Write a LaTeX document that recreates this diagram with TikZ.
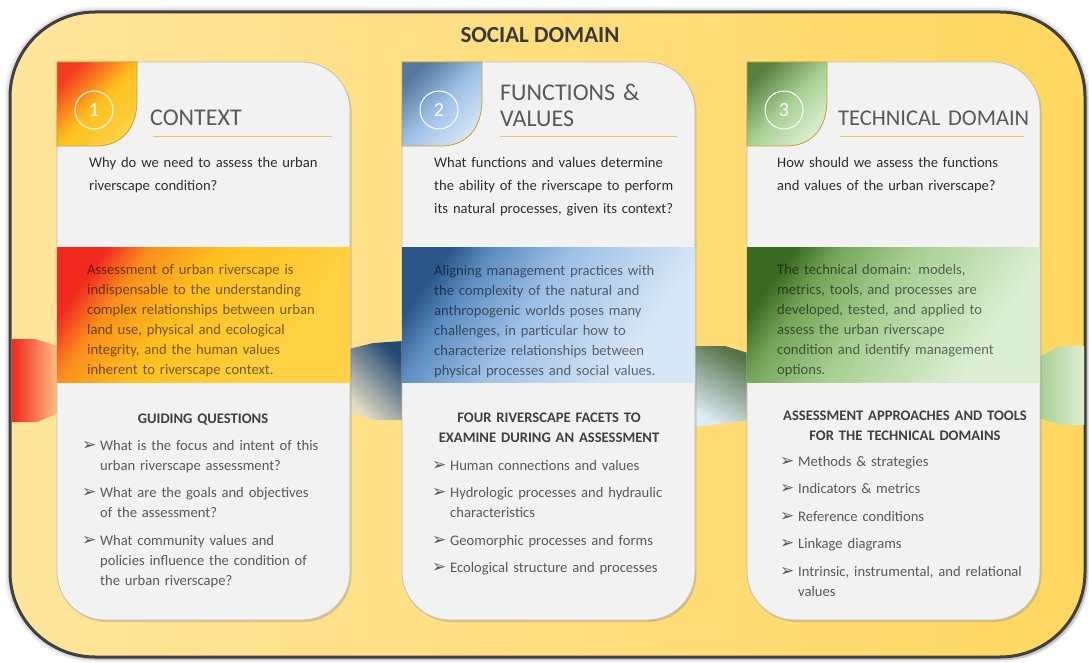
\documentclass[tikz,border=0pt]{standalone}
\usepackage{fontspec}
\setmainfont{Carlito}
\newfontfamily\arrowfont{DejaVu Sans}
\usetikzlibrary{shadows}

% colours
\definecolor{framegray}{HTML}{404040}
\definecolor{frmL}{HTML}{FFE59C}
\definecolor{frmM}{HTML}{FFF3D2}
\definecolor{frmR}{HTML}{FFD760}
\definecolor{cardfill}{HTML}{F2F2F2}
\definecolor{cardedge}{HTML}{C4BFAE}
\definecolor{leafedge}{HTML}{C9A227}
\definecolor{rulegold}{HTML}{EAC55B}
\definecolor{titlegray}{HTML}{3A3A3A}
\definecolor{headgray}{HTML}{595959}
\definecolor{qgray}{HTML}{2E2E2E}
\definecolor{lhgray}{HTML}{404040}
\definecolor{lgray}{HTML}{595959}
% -- context
\definecolor{ctxA}{HTML}{F0281E}
\definecolor{ctxB}{HTML}{F98E1D}
\definecolor{ctxC}{HTML}{FFC01E}
\definecolor{ctxD}{HTML}{FFD245}
% -- functions
\definecolor{fnA}{HTML}{2A5689}
\definecolor{fnB}{HTML}{5E8EC2}
\definecolor{fnC}{HTML}{9DC0E6}
\definecolor{fnD}{HTML}{D7E6F6}
% -- technical
\definecolor{tcA}{HTML}{3A6A22}
\definecolor{tcB}{HTML}{75A65A}
\definecolor{tcC}{HTML}{A7CF92}
\definecolor{tcD}{HTML}{DCEED3}

\pgfdeclareverticalshading{ctxshade}{100bp}{color(0bp)=(ctxD); color(30bp)=(ctxD); color(55bp)=(ctxC); color(68bp)=(ctxB); color(76bp)=(ctxA); color(100bp)=(ctxA)}
\pgfdeclareverticalshading{fnshade}{100bp}{color(0bp)=(fnD); color(30bp)=(fnD); color(54bp)=(fnC); color(68bp)=(fnB); color(76bp)=(fnA); color(100bp)=(fnA)}
\pgfdeclareverticalshading{tcshade}{100bp}{color(0bp)=(tcD); color(30bp)=(tcD); color(54bp)=(tcC); color(68bp)=(tcB); color(76bp)=(tcA); color(100bp)=(tcA)}

\newcommand{\bltarrow}{\makebox[18pt][l]{\arrowfont\fontsize{17}{17}\selectfont ➢}}
\newcommand{\bltgap}{\hspace*{18pt}}

\begin{document}
\begin{tikzpicture}[x=1pt, y=-1pt, every node/.style={inner sep=0pt},
    frame/.style={draw=framegray, line width=3pt, rounded corners=85pt,
        left color=frmL, middle color=frmM, right color=frmR,
        drop shadow={opacity=0.25, shadow xshift=3pt, shadow yshift=-3pt}},
    halo/.style={draw=black, rounded corners=85pt},
    card/.style={fill=cardfill, draw=cardedge, line width=0.8pt, rounded corners=48pt,
        drop shadow={opacity=0.3, shadow xshift=1.5pt, shadow yshift=-2pt}},
    leafline/.style={draw=leafedge, line width=0.8pt},
    numring/.style={circle, draw=white, line width=1pt, minimum size=38pt,
        text=white, font=\fontsize{20}{20}\selectfont},
    cardhead/.style={anchor=base west, text=headgray, font=\fontsize{24}{26}\selectfont,
        text width=260pt, align=left},
    headrule/.style={draw=rulegold, line width=1pt},
    question/.style={anchor=base west, text=qgray, font=\fontsize{14.6}{23}\selectfont,
        text width=275pt, align=left},
    bandtext/.style={anchor=base west, text=black, text opacity=0.55,
        font=\fontsize{14.6}{20}\selectfont, text width=265pt, align=left},
    listhead/.style={anchor=base, text=lhgray, font=\fontsize{14.6}{20}\selectfont\bfseries,
        text width=285pt, align=center},
    bullets/.style={anchor=base west, text=lgray, font=\fontsize{14.6}{20}\selectfont,
        text width=265pt, align=left}]

    % Draw Background and Frame
    \path[use as bounding box, fill=white] (0,0) rectangle (1089,663);
    \draw[halo, line width=11pt, opacity=0.05] (10,12) rectangle (1085,657);
    \draw[halo, line width=7pt, opacity=0.07] (10,12) rectangle (1085,657);
    \draw[frame] (10,12) rectangle (1085,657);
    \node[anchor=base, text=titlegray, font=\fontsize{23}{23}\selectfont\bfseries] (title) at (540,43) {SOCIAL DOMAIN};

    % Ribbons running behind the cards
    \path[left color=ctxA, right color=ctxB!55!white] (12,339) -- (35,339) -- (58,346) -- (58,413) -- (37,422) -- (12,422) -- cycle;
    \path[top color=fnA!85!black, bottom color=frmM!80!gray, shading angle=-45] (349,349) -- (373,343) -- (403,341) -- (403,420) -- (373,420) -- (349,412) -- cycle;
    \path[top color=tcA!60!gray, bottom color=fnD!80!white, shading angle=-30] (694,346) -- (725,346) -- (748,353) -- (748,420) -- (735,422) -- (694,427) -- cycle;
    \path[left color=tcC, right color=tcD] (1039,357) -- (1060,346) -- (1084,346) -- (1084,425) -- (1060,425) -- (1039,418) -- cycle;

    % Draw Cards
    \draw[card] (57,62) rectangle (350,620);
    \draw[card] (402,62) rectangle (695,620);
    \draw[card] (747,62) rectangle (1040,620);

    % Coloured bands
    \fill[shading=ctxshade, shading angle=55] (57,247) rectangle (350,382);
    \fill[shading=fnshade, shading angle=55] (402,247) rectangle (695,382);
    \fill[shading=tcshade, shading angle=55] (747,247) rectangle (1040,382);

    % Leaf tabs
    \draw[leafline, top color=ctxA!80!ctxB, bottom color=ctxD, middle color=ctxC, shading angle=45]
        (57,62) -- (137,62) -- (137,100) .. controls (137,128) and (122,146) .. (96,146) -- (57,146) -- cycle;
    \draw[leafline, top color=fnA!80!white, bottom color=fnD, middle color=fnC, shading angle=45]
        (402,62) -- (482,62) -- (482,100) .. controls (482,128) and (467,146) .. (441,146) -- (402,146) -- cycle;
    \draw[leafline, top color=tcA!85!white, bottom color=tcD, middle color=tcC, shading angle=45]
        (747,62) -- (827,62) -- (827,100) .. controls (827,128) and (812,146) .. (786,146) -- (747,146) -- cycle;

    % Numbers
    \node[numring] (num1) at (94,110) {1};
    \node[numring] (num2) at (439,110) {2};
    \node[numring] (num3) at (784,110) {3};

    % Card headers
    \node[cardhead] (head1) at (150,126) {CONTEXT};
    \node[cardhead] (head2) at (500,101) {FUNCTIONS \&\\VALUES};
    \node[cardhead, font=\fontsize{22.5}{26}\selectfont] (head3) at (838,126) {TECHNICAL DOMAIN};
    \draw[headrule] (153,137) -- (332,137);
    \draw[headrule] (500,137) -- (677,137);
    \draw[headrule] (840,137) -- (1024,137);

    % Questions
    \node[question] (q1) at (89,168) {Why do we need to assess the urban\\riverscape condition?};
    \node[question] (q2) at (434,168) {What functions and values determine\\the ability of the riverscape to perform\\its natural processes, given its context?};
    \node[question] (q3) at (777,168) {How should we assess the functions\\and values of the urban riverscape?};

    % Band texts
    \node[bandtext] (b1) at (87,274) {Assessment of urban riverscape is\\indispensable to the understanding\\complex relationships between urban\\land use, physical and ecological\\integrity, and the human values\\inherent to riverscape context.};
    \node[bandtext] (b2) at (434,275) {Aligning management practices with\\the complexity of the natural and\\anthropogenic worlds poses many\\challenges, in particular how to\\characterize relationships between\\physical processes and social values.};
    \node[bandtext] (b3) at (777,274) {The technical domain: models,\\metrics, tools, and processes are\\developed, tested, and applied to\\assess the urban riverscape\\condition and identify management\\options.};

    % List headers
    \node[listhead] (lh1) at (203,423) {GUIDING QUESTIONS};
    \node[listhead] (lh2) at (549,422) {FOUR RIVERSCAPE FACETS TO\\EXAMINE DURING AN ASSESSMENT};
    \node[listhead] (lh3) at (905,420) {ASSESSMENT APPROACHES AND TOOLS\\FOR THE TECHNICAL DOMAINS};

    % Lists
    \node[bullets] (l1) at (82,450) {\bltarrow What is the focus and intent of this\\
        \bltgap urban riverscape assessment?\\[7.5pt]
        \bltarrow What are the goals and objectives\\
        \bltgap of the assessment?\\[7.5pt]
        \bltarrow What community values and\\
        \bltgap policies influence the condition of\\
        \bltgap the urban riverscape?};
    \node[bullets] (l2) at (432,470) {\bltarrow Human connections and values\\[7.5pt]
        \bltarrow Hydrologic processes and hydraulic\\
        \bltgap characteristics\\[7.5pt]
        \bltarrow Geomorphic processes and forms\\[7.5pt]
        \bltarrow Ecological structure and processes};
    \node[bullets] (l3) at (780,466) {\bltarrow Methods \& strategies\\[7.5pt]
        \bltarrow Indicators \& metrics\\[7.5pt]
        \bltarrow Reference conditions\\[7.5pt]
        \bltarrow Linkage diagrams\\[7.5pt]
        \bltarrow Intrinsic, instrumental, and relational\\
        \bltgap values};
\end{tikzpicture}
\end{document}
